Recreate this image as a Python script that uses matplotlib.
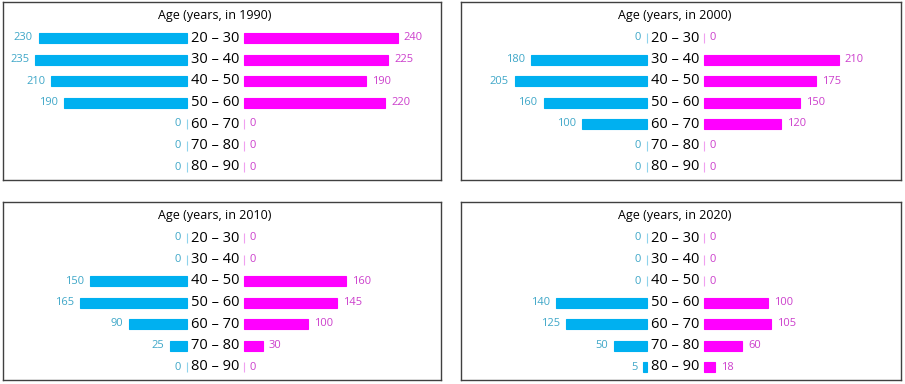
import matplotlib.pyplot as plt

age_groups = ["20 – 30", "30 – 40", "40 – 50", "50 – 60", "60 – 70", "70 – 80", "80 – 90"]
years = ["1990", "2000", "2010", "2020"]
left_1990 = [230, 235, 210, 190, 0, 0, 0]
right_1990 = [240, 225, 190, 220, 0, 0, 0]
left_2000 = [0, 180, 205, 160, 100, 0, 0]
right_2000 = [0, 210, 175, 150, 120, 0, 0]
left_2010 = [0, 0, 150, 165, 90, 25, 0]
right_2010 = [0, 0, 160, 145, 100, 30, 0]
left_2020 = [0, 0, 0, 140, 125, 50, 5]
right_2020 = [0, 0, 0, 100, 105, 60, 18]

lefts = [left_1990, left_2000, left_2010, left_2020]
rights = [right_1990, right_2000, right_2010, right_2020]

BLUE = "#00b0f0"
MAGENTA = "#ff00ff"
BLUE_TXT = "#3fa7c8"
MAG_TXT = "#cc3fcc"

plt.rcParams['font.family'] = ['Open Sans', 'DejaVu Sans']

W, H = 905, 384
fig = plt.figure(figsize=(W / 100, H / 100), dpi=100)

# panel boxes in pixels: (left, top, right, bottom)
boxes = [(3, 2, 441, 180), (461, 2, 901, 180), (3, 202, 441, 380), (461, 202, 901, 380)]
centers = [215, 675, 215, 675]
scale = 0.643   # px per unit
gap = 28.5      # px from centre to bar origin

for k in range(4):
    x0, y0, x1, y1 = boxes[k]
    ax = fig.add_axes([x0 / W, 1 - y1 / H, (x1 - x0) / W, (y1 - y0) / H])
    c = centers[k] - x0
    # x in pixels relative to panel left, y pixels from panel top
    ax.set_xlim(0, x1 - x0)
    ax.set_ylim(y1 - y0, 0)
    ax.set_xticks([])
    ax.set_yticks([])
    for s in ax.spines.values():
        s.set_color("#404040")
        s.set_linewidth(1.0)

    ys = [36 + 21.5 * i for i in range(len(age_groups))]
    lw = [v * scale for v in lefts[k]]
    rw = [v * scale for v in rights[k]]
    ax.barh(ys, [-w for w in lw], left=c - gap, height=10, color=BLUE,
            edgecolor=[BLUE if w > 0 else "#8fd3ec" for w in lw], linewidth=0.8)
    ax.barh(ys, rw, left=c + gap, height=10, color=MAGENTA,
            edgecolor=[MAGENTA if w > 0 else "#f0a0f0" for w in rw], linewidth=0.8)

    for i, y in enumerate(ys):
        ax.text(c, y, age_groups[i], ha="center", va="center", fontsize=10.5, color="black")
        ax.text(c - gap - lw[i] - 6, y, str(lefts[k][i]), ha="right", va="center",
                fontsize=8, color=BLUE_TXT)
        ax.text(c + gap + rw[i] + 6, y, str(rights[k][i]), ha="left", va="center",
                fontsize=8, color=MAG_TXT)

    ax.text(c, 13, f"Age (years, in {years[k]})", ha="center", va="center",
            fontsize=9, color="black")

fig.savefig("out.png", dpi=100)
